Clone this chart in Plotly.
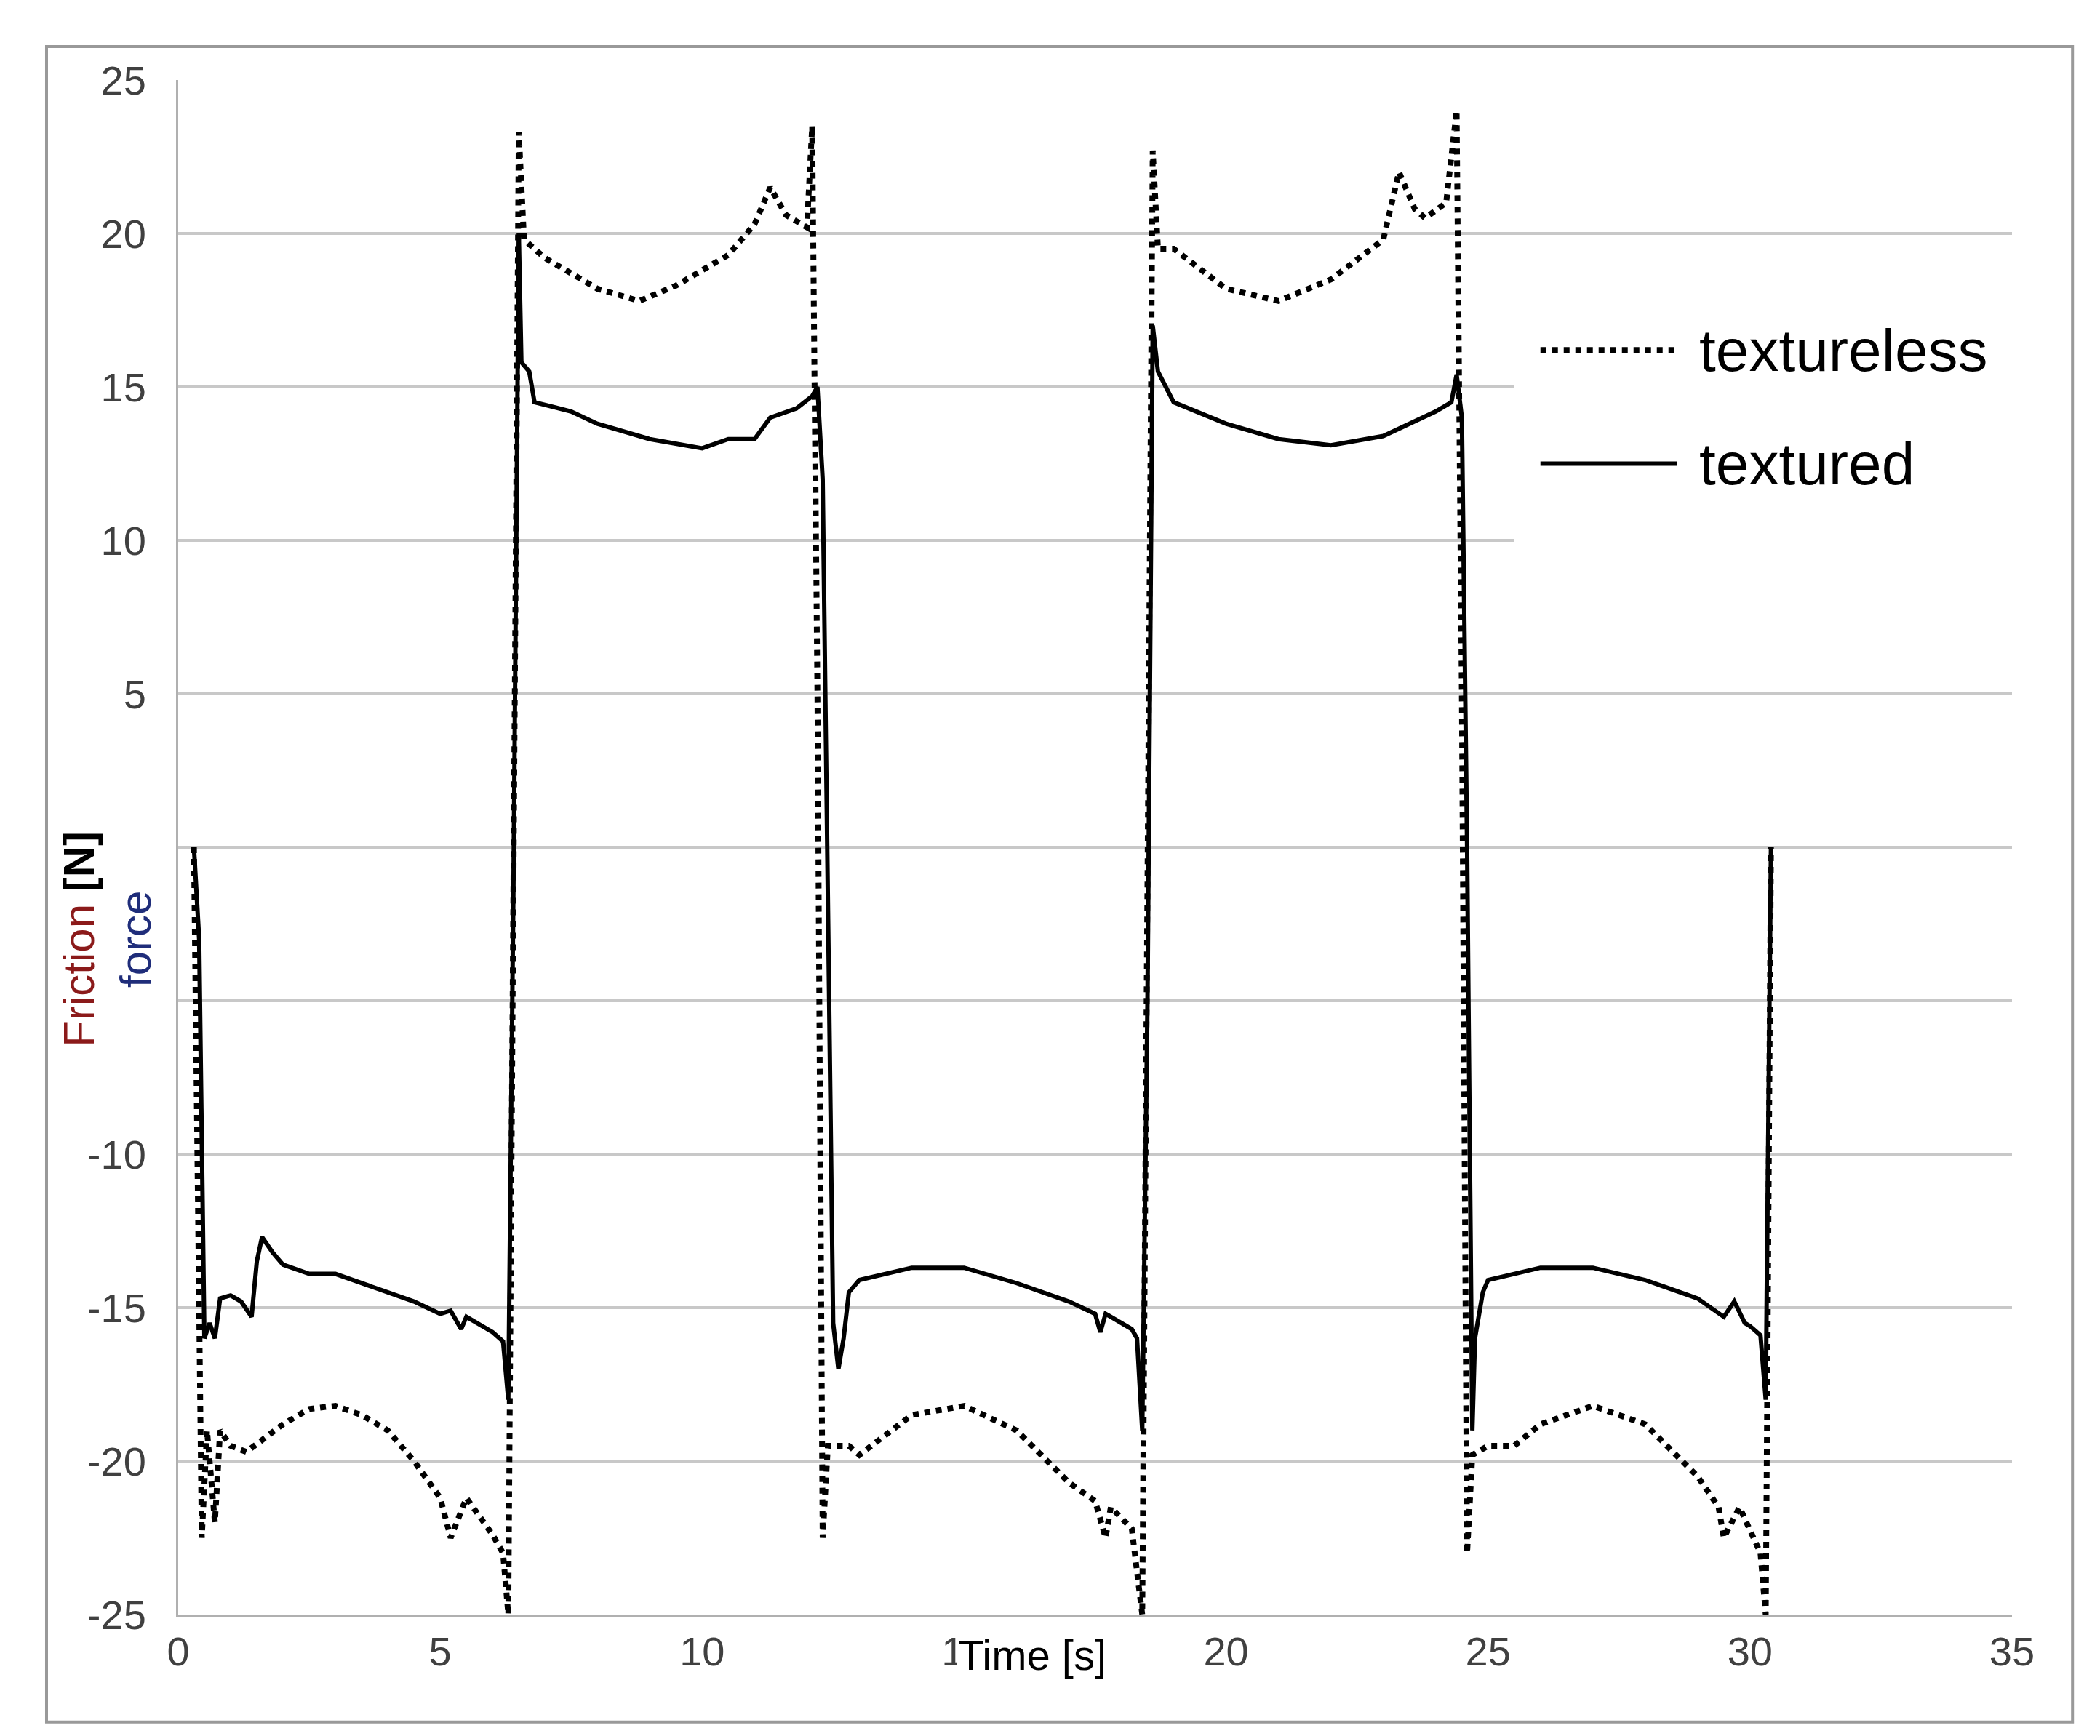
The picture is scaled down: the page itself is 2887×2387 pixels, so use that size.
import plotly.graph_objects as go

# textured (solid)
t_tex = [0.3, 0.4, 0.5, 0.6, 0.7, 0.8, 1.0, 1.2, 1.4, 1.5, 1.6, 1.8, 2.0, 2.5, 3.0, 3.5, 4.0, 4.5, 5.0, 5.2, 5.4, 5.5, 6.0, 6.2, 6.3,
         6.4, 6.5, 6.55, 6.7, 6.8, 7.5, 8.0, 9.0, 10.0, 10.5, 11.0, 11.3, 11.8, 12.1, 12.2, 12.3,
         12.5, 12.6, 12.7, 12.8, 13.0, 14.0, 15.0, 16.0, 17.0, 17.5, 17.6, 17.7, 18.2, 18.3, 18.4,
         18.5, 18.6, 18.7, 19.0, 20.0, 21.0, 22.0, 23.0, 24.0, 24.3, 24.4, 24.5,
         24.6, 24.7, 24.75, 24.9, 25.0, 26.0, 27.0, 28.0, 29.0, 29.5, 29.7, 29.9, 30.0, 30.2, 30.3, 30.4]
f_tex = [0, -3, -16, -15.5, -16, -14.7, -14.6, -14.8, -15.3, -13.5, -12.7, -13.2, -13.6, -13.9, -13.9, -14.2, -14.5, -14.8, -15.2, -15.1, -15.7, -15.3, -15.8, -16.1, -18,
         -1, 20, 15.8, 15.5, 14.5, 14.2, 13.8, 13.3, 13.0, 13.3, 13.3, 14.0, 14.3, 14.7, 15.0, 12,
         -15.5, -17, -16, -14.5, -14.1, -13.7, -13.7, -14.2, -14.8, -15.2, -15.8, -15.2, -15.7, -16, -19,
         -5, 17, 15.5, 14.5, 13.8, 13.3, 13.1, 13.4, 14.2, 14.5, 15.4, 14,
         0, -19, -16, -14.5, -14.1, -13.7, -13.7, -14.1, -14.7, -15.3, -14.8, -15.5, -15.6, -15.9, -18, 0]

# textureless (dotted)
t_plain = [0.3, 0.45, 0.55, 0.7, 0.8, 1.0, 1.3, 1.6, 2.0, 2.5, 3.0, 3.5, 4.0, 4.5, 5.0, 5.2, 5.5, 6.0, 6.2, 6.3,
           6.4, 6.5, 6.6, 7.0, 8.0, 8.8, 9.5, 10.5, 11.0, 11.3, 11.6, 12.0, 12.1, 12.2,
           12.3, 12.4, 12.8, 13.0, 14.0, 15.0, 16.0, 17.0, 17.5, 17.7, 17.8, 18.2, 18.4,
           18.5, 18.6, 18.7, 19.0, 20.0, 21.0, 22.0, 23.0, 23.3, 23.6, 23.8, 24.2, 24.4, 24.5,
           24.6, 24.7, 25.0, 25.5, 26.0, 27.0, 28.0, 29.0, 29.4, 29.5, 29.8, 30.2, 30.3, 30.4]
f_plain = [0, -22.5, -19, -22, -19, -19.5, -19.7, -19.3, -18.8, -18.3, -18.2, -18.5, -19, -20, -21.2, -22.5, -21.2, -22.4, -23, -25,
           -2, 23.3, 19.8, 19.2, 18.2, 17.8, 18.3, 19.3, 20.3, 21.5, 20.6, 20.2, 23.5, 5,
           -22.5, -19.5, -19.5, -19.8, -18.5, -18.2, -19, -20.7, -21.3, -22.5, -21.5, -22.2, -25,
           0, 22.7, 19.5, 19.5, 18.2, 17.8, 18.5, 19.8, 22, 20.8, 20.5, 21, 24, 5,
           -23, -19.8, -19.5, -19.5, -18.8, -18.2, -18.8, -20.5, -21.5, -22.5, -21.5, -23, -25, 0]

y_ticks = [-25, -20, -15, -10, -5, 0, 5, 10, 15, 20, 25]
y_labels = ["-25", "-20", "-15", "-10", "-5", "0", "5", "10", "15", "20", "25"]

font = "Liberation Sans, Arial, sans-serif"

fig = go.Figure()
fig.add_trace(go.Scatter(x=t_plain, y=f_plain, mode="lines", name="textureless",
                         line=dict(color="black", width=8, dash="dot")))
fig.add_trace(go.Scatter(x=t_tex, y=f_tex, mode="lines", name="textured",
                         line=dict(color="black", width=6)))

fig.update_layout(
    width=2887, height=2387, showlegend=False,
    paper_bgcolor="white", plot_bgcolor="white",
    margin=dict(l=237, r=129, t=102, b=175),
    font=dict(family=font, size=56, color="#404040"),
    xaxis=dict(range=[0, 35], tickvals=[0, 5, 10, 15, 20, 25, 30, 35], showgrid=False,
               showline=True, linecolor="#b0b0b0", linewidth=3, zeroline=False, ticks=""),
    yaxis=dict(range=[-25, 25], tickvals=y_ticks, ticktext=y_labels, showgrid=True,
               gridcolor="#c8c8c8", gridwidth=4,
               showline=True, linecolor="#b0b0b0", linewidth=3, zeroline=False, ticks="",
               ticklabelstandoff=30),
)

shapes = [
    # white patch behind legend
    dict(type="rect", xref="x", yref="y", x0=25.5, x1=35, y0=8, y1=17.5,
         fillcolor="white", line=dict(width=0), layer="between"),
    # legend samples
    dict(type="line", xref="x", yref="y", x0=26.0, x1=28.6, y0=16.2, y1=16.2,
         line=dict(color="black", width=8, dash="dot")),
    dict(type="line", xref="x", yref="y", x0=26.0, x1=28.6, y0=12.5, y1=12.5,
         line=dict(color="black", width=6)),
    # outer border
    dict(type="rect", xref="paper", yref="paper", x0=-0.0718, x1=1.033, y0=-0.070, y1=1.0218,
         line=dict(color="#999", width=4)),
]
fig.update_layout(shapes=shapes)

fig.add_annotation(x=29.0, y=16.2, xref="x", yref="y", text="textureless", showarrow=False,
                   xanchor="left", font=dict(size=82, color="black"))
fig.add_annotation(x=29.0, y=12.5, xref="x", yref="y", text="textured", showarrow=False,
                   xanchor="left", font=dict(size=82, color="black"))
fig.add_annotation(x=16.3, y=-25, xref="x", yref="y", yshift=-55, showarrow=False,
                   text="Time [s]", font=dict(size=58, color="black"), bgcolor="white")
fig.add_annotation(x=-0.068, y=0.44, xref="paper", yref="paper", showarrow=False, textangle=-90,
                   xanchor="left",
                   text="<span style='color:#8b1a1a'>Friction</span> <b>[N]</b><br><span style='color:#1f2d7a'>force</span>",
                   font=dict(size=60, color="black"), bgcolor="white")

fig.write_html("out.html")
